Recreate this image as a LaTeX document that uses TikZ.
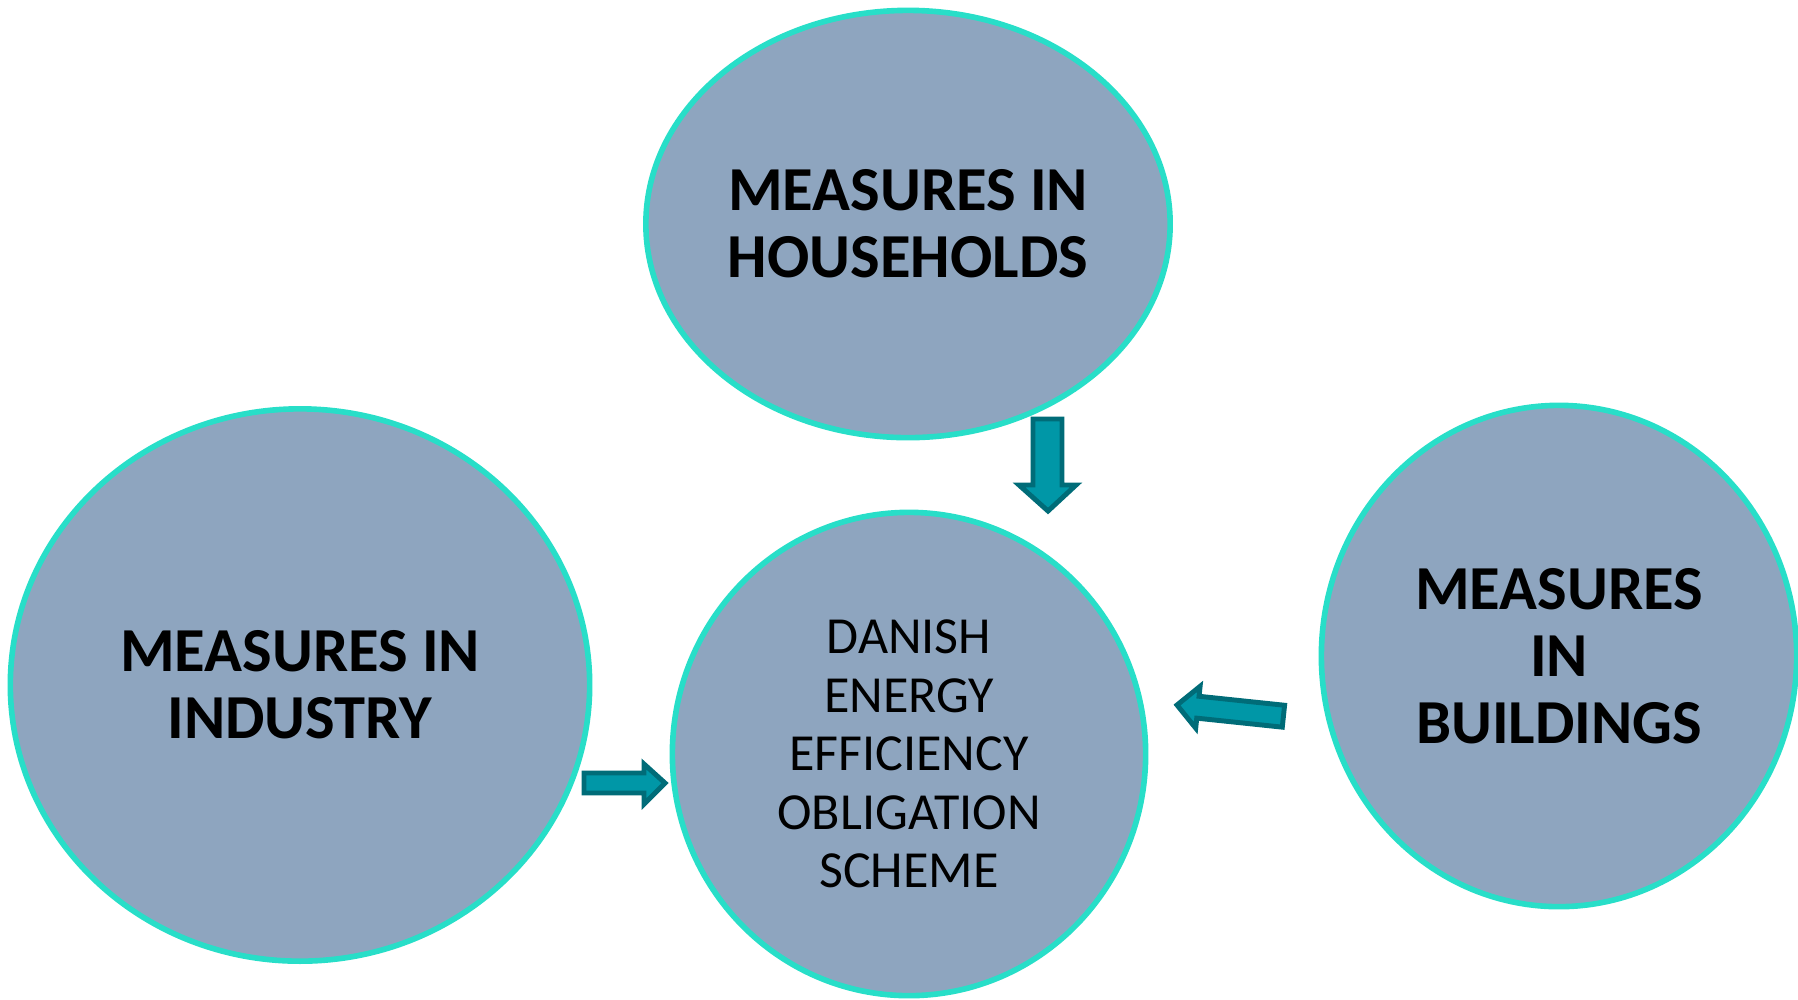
\documentclass[tikz,border=0pt]{standalone}
\usepackage{fontspec}
\setmainfont{Carlito}
\usetikzlibrary{shapes.geometric}
\definecolor{bubblefill}{RGB}{142,165,191}
\definecolor{bubbleline}{RGB}{40,222,200}
\definecolor{arrowfill}{RGB}{0,151,167}
\definecolor{arrowline}{RGB}{0,108,120}
\tikzset{
  bubble/.style={ellipse, fill=bubblefill, draw=bubbleline, line width=1.6pt, inner sep=0pt, align=center},
  bigtext/.style={font=\fontsize{17.8}{19}\selectfont\bfseries},
  smalltext/.style={font=\fontsize{14.8}{16.6}\selectfont},
  blockarrow/.style={fill=arrowfill, draw=arrowline, line width=1.4pt, line join=miter}
}
\begin{document}
\begin{tikzpicture}[x=0.01cm, y=-0.01cm]
\useasboundingbox (0,0) rectangle (1798,999);
\node[bubble, bigtext, minimum width=5.24cm, minimum height=4.27cm] (house) at (908,224) {MEASURES IN\\HOUSEHOLDS};
\node[bubble, bigtext, minimum width=5.79cm, minimum height=5.52cm] (industry) at (300,685) {MEASURES IN\\INDUSTRY};
\node[bubble, smalltext, minimum width=4.73cm, minimum height=4.83cm] (scheme) at (909,754) {DANISH\\ENERGY\\EFFICIENCY\\OBLIGATION\\SCHEME};
\node[bubble, bigtext, minimum width=4.75cm, minimum height=5.01cm] (build) at (1559,656) {MEASURES\\IN\\BUILDINGS};
% block arrows
\draw[blockarrow] (1033,419) -- (1062,419) -- (1062,485) -- (1076,485) -- (1048,511) -- (1019,485) -- (1033,485) -- cycle;
\draw[blockarrow] (584,773) -- (644,773) -- (644,764) -- (665,783) -- (644,804) -- (644,793) -- (584,793) -- cycle;
\begin{scope}[shift={(1177,705)}, rotate=-6]
\draw[blockarrow] (0,0) -- (21,-21) -- (21,-11) -- (107,-11) -- (107,11) -- (21,11) -- (21,21) -- cycle;
\end{scope}
\end{tikzpicture}
\end{document}
